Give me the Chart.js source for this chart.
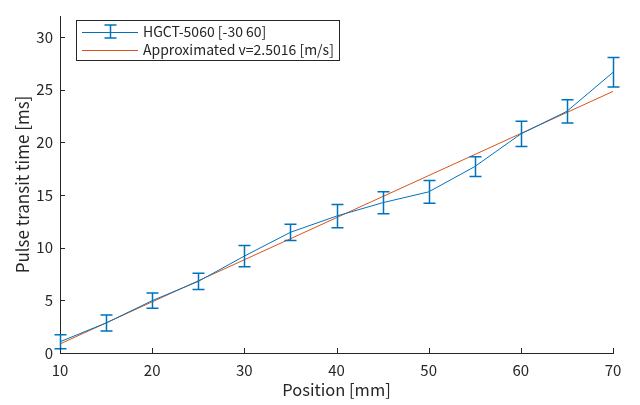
<!DOCTYPE html>
<html>
<head>
<meta charset="utf-8">
<script src="https://cdn.jsdelivr.net/npm/chart.js@4"></script>
<style>
  html, body { margin: 0; padding: 0; background: #fff; }
  #wrap { width: 640px; height: 405px; }
</style>
</head>
<body>
<div id="wrap"><canvas id="myChart" width="640" height="405"></canvas></div>
<script>
const positions = [10, 15, 20, 25, 30, 35, 40, 45, 50, 55, 60, 65, 70];
const transitTimes = [1.07, 2.85, 4.97, 6.8, 9.2, 11.46, 13.0, 14.27, 15.3, 17.7, 20.8, 22.95, 26.65];
const errors = [0.67, 0.77, 0.72, 0.78, 1.0, 0.77, 1.1, 1.04, 1.09, 0.94, 1.2, 1.1, 1.4];
const fitX = [10, 70];
const fitY = [0.86, 24.84];
const seriesNames = ['HGCT-5060 [-30 60]', 'Approximated v=2.5016 [m/s]'];
const xTicks = [10, 20, 30, 40, 50, 60, 70];
const yTicks = [0, 5, 10, 15, 20, 25, 30];

const blue = '#0072BD';
const red = '#D95319';
const axisColor = '#262626';
const fontFamily = '"Noto Sans CJK JP", "Noto Sans", sans-serif';

// error bars, inward ticks and the legend box
const extras = {
  id: 'extras',
  afterDatasetsDraw(chart) {
    const ctx = chart.ctx;
    const xs = chart.scales.x;
    const ys = chart.scales.y;
    ctx.save();
    ctx.strokeStyle = blue;
    ctx.lineWidth = 1.5;
    positions.forEach((p, i) => {
      const px = Math.round(xs.getPixelForValue(p)) + 0.5;
      const top = ys.getPixelForValue(transitTimes[i] + errors[i]);
      const bot = ys.getPixelForValue(transitTimes[i] - errors[i]);
      ctx.beginPath();
      ctx.moveTo(px, top); ctx.lineTo(px, bot);
      ctx.moveTo(px - 6, top); ctx.lineTo(px + 6, top);
      ctx.moveTo(px - 6, bot); ctx.lineTo(px + 6, bot);
      ctx.stroke();
    });
    ctx.restore();
  },
  afterDraw(chart) {
    const ctx = chart.ctx;
    const xs = chart.scales.x;
    const ys = chart.scales.y;
    const area = chart.chartArea;
    ctx.save();
    ctx.strokeStyle = axisColor;
    ctx.lineWidth = 1;
    ctx.beginPath();
    xTicks.forEach(v => {
      const px = Math.round(xs.getPixelForValue(v)) + 0.5;
      ctx.moveTo(px, area.bottom); ctx.lineTo(px, area.bottom - 5);
    });
    yTicks.forEach(v => {
      const py = Math.round(ys.getPixelForValue(v)) + 0.5;
      ctx.moveTo(area.left, py); ctx.lineTo(area.left + 5, py);
    });
    ctx.stroke();

    // legend
    const lx = 76.5, ly = 20.5, lw = 263, lh = 40;
    ctx.fillStyle = '#fff';
    ctx.fillRect(lx, ly, lw, lh);
    ctx.strokeStyle = axisColor;
    ctx.strokeRect(lx, ly, lw, lh);

    const row1 = 32, row2 = 50;
    ctx.strokeStyle = blue;
    ctx.lineWidth = 1;
    ctx.beginPath();
    ctx.moveTo(82, row1 + 0.5); ctx.lineTo(138, row1 + 0.5);
    ctx.stroke();
    ctx.lineWidth = 1.5;
    ctx.beginPath();
    ctx.moveTo(110.5, 25); ctx.lineTo(110.5, 38);
    ctx.moveTo(104.5, 25); ctx.lineTo(116.5, 25);
    ctx.moveTo(104.5, 38); ctx.lineTo(116.5, 38);
    ctx.stroke();
    ctx.strokeStyle = red;
    ctx.lineWidth = 1;
    ctx.beginPath();
    ctx.moveTo(82, row2 + 0.5); ctx.lineTo(138, row2 + 0.5);
    ctx.stroke();

    ctx.fillStyle = axisColor;
    ctx.font = '14px ' + fontFamily;
    ctx.textBaseline = 'middle';
    ctx.textAlign = 'left';
    ctx.fillText(seriesNames[0], 143, row1);
    ctx.fillText(seriesNames[1], 143, row2);
    ctx.restore();
  }
};

const ctx = document.getElementById('myChart');
new Chart(ctx, {
  type: 'scatter',
  data: {
    datasets: [{
      label: seriesNames[0],
      data: positions.map((p, i) => ({ x: p, y: transitTimes[i] })),
      showLine: true,
      borderColor: blue,
      borderWidth: 1,
      pointRadius: 0
    }, {
      label: seriesNames[1],
      data: fitX.map((p, i) => ({ x: p, y: fitY[i] })),
      showLine: true,
      borderColor: red,
      borderWidth: 1,
      pointRadius: 0
    }]
  },
  plugins: [extras],
  options: {
    responsive: false,
    animation: false,
    layout: { padding: { top: 4, right: 27, left: 0, bottom: 0 } },
    plugins: { legend: { display: false }, tooltip: { enabled: false } },
    scales: {
      x: {
        type: 'linear',
        min: 10, max: 70,
        afterBuildTicks: s => { s.ticks = xTicks.map(v => ({ value: v })); },
        afterFit: s => { s.height = 52; },
        grid: { display: true, drawOnChartArea: false, drawTicks: false },
        border: { color: axisColor, width: 1 },
        ticks: { color: axisColor, padding: 8, font: { family: fontFamily, size: 15 }, maxRotation: 0 },
        title: { display: true, text: 'Position [mm]', color: axisColor, padding: { top: 0, bottom: 5 }, font: { family: fontFamily, size: 16.5 } }
      },
      y: {
        type: 'linear',
        min: 0, max: 32,
        afterBuildTicks: s => { s.ticks = yTicks.map(v => ({ value: v })); },
        afterFit: s => { s.width = 60; },
        grid: { display: true, drawOnChartArea: false, drawTicks: false },
        border: { color: axisColor, width: 1 },
        ticks: { color: axisColor, padding: 7, font: { family: fontFamily, size: 15 } },
        title: { display: true, text: 'Pulse transit time [ms]', color: axisColor, padding: { top: 12, bottom: 0 }, font: { family: fontFamily, size: 17 } }
      }
    }
  }
});
</script>
</body>
</html>
